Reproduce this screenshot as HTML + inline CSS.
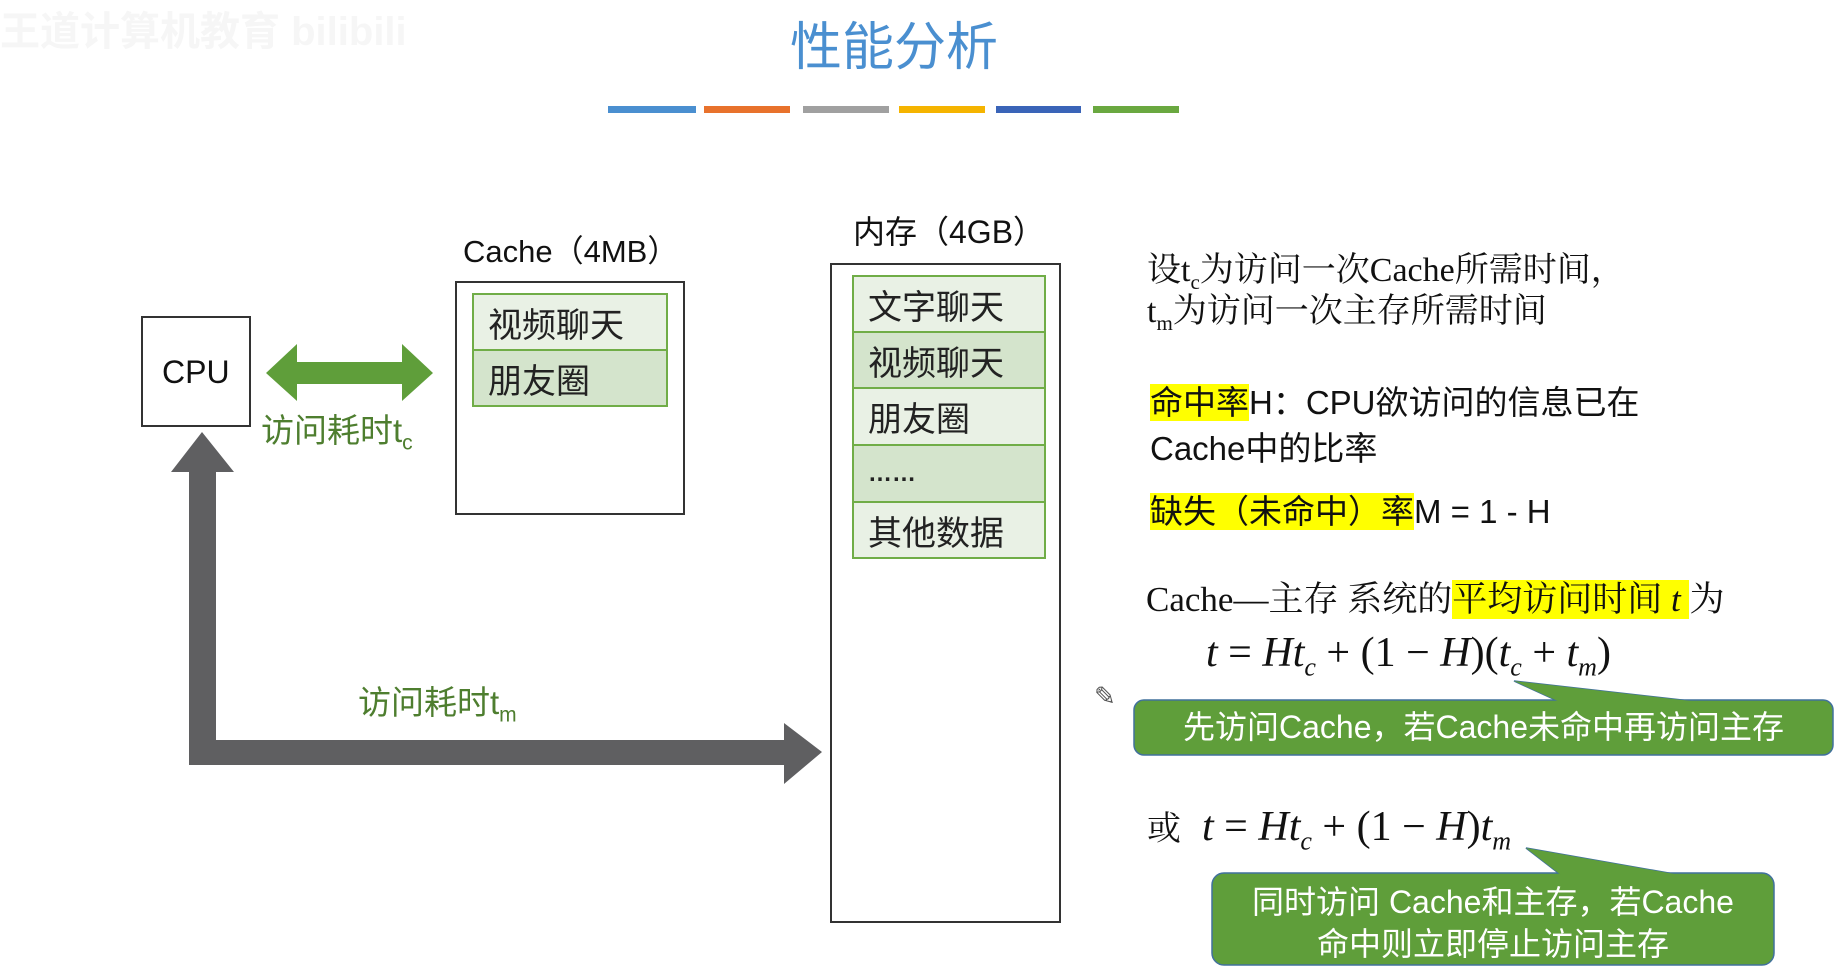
<!DOCTYPE html>
<html><head><meta charset="utf-8"><style>
html,body{margin:0;padding:0;background:#fff;}
body{width:1841px;height:977px;position:relative;overflow:hidden;font-family:"Liberation Sans","Noto Sans CJK SC",sans-serif;}
.t{position:absolute;white-space:nowrap;line-height:1;}
.s{font-family:"Liberation Serif","Noto Serif CJK SC",serif;}
.hl{background:#ffff00;}
.row{position:absolute;box-sizing:border-box;border:2px solid #70ad47;font-size:34px;padding-left:14px;display:flex;align-items:center;color:#222;}
.a{background:#e9f1e5;}.b{background:#d4e4cc;}
</style></head><body>
<div class="t" style="left:0;top:12px;font-size:40px;color:#f6f6f6;font-weight:bold;">王道计算机教育 bilibili</div>
<div class="t" style="left:790px;top:22px;font-size:52px;color:#4a8fd0;">性能分析</div>
<div style="position:absolute;top:106px;height:7px;left:608px;width:88px;background:#4a8fd0"></div>
<div style="position:absolute;top:106px;height:7px;left:704px;width:86px;background:#e8722c"></div>
<div style="position:absolute;top:106px;height:7px;left:803px;width:86px;background:#a0a0a0"></div>
<div style="position:absolute;top:106px;height:7px;left:899px;width:86px;background:#f5b400"></div>
<div style="position:absolute;top:106px;height:7px;left:996px;width:85px;background:#3a64b8"></div>
<div style="position:absolute;top:106px;height:7px;left:1093px;width:86px;background:#6aa840"></div>

<svg width="1841" height="977" style="position:absolute;left:0;top:0">
<rect x="142" y="317" width="108" height="109" fill="#fff" stroke="#333" stroke-width="2"/>
<rect x="456" y="282" width="228" height="232" fill="#fff" stroke="#333" stroke-width="2"/>
<rect x="831" y="264" width="229" height="658" fill="#fff" stroke="#333" stroke-width="2"/>
<polygon points="266,373 297,344 297,362 402,362 402,344 433,373 402,401 402,384 297,384 297,401" fill="#5f9e3a"/>
<polygon points="202,432 234,472 216,472 216,740 784,740 784,723 822,752 784,784 784,765 189,765 189,472 171,472" fill="#5f5f61"/>
<text x="1094" y="705" font-size="26" fill="#555">✎</text>
<polygon points="1514,681 1560,702 1700,702" fill="#5f9e3a" stroke="#41719c" stroke-width="1.5"/>
<rect x="1134" y="700" width="699" height="55" rx="10" fill="#5f9e3a" stroke="#41719c" stroke-width="1.5"/>
<polygon points="1560,702 1700,702 1514,681" fill="#5f9e3a"/>
<polygon points="1526,848 1561,875 1680,875" fill="#5f9e3a" stroke="#41719c" stroke-width="1.5"/>
<rect x="1212" y="873" width="562" height="92" rx="12" fill="#5f9e3a" stroke="#41719c" stroke-width="1.5"/>
<polygon points="1561,875 1680,875 1526,848" fill="#5f9e3a"/>
</svg>

<div class="t" style="left:162px;top:356px;font-size:32px;color:#111;">CPU</div>
<div class="t" style="left:463px;top:236px;font-size:31px;color:#111;">Cache（4MB）</div>
<div class="t" style="left:853px;top:216px;font-size:32px;color:#111;">内存（4GB）</div>
<div class="t" style="left:261px;top:414px;font-size:33px;color:#4e7e2f;">访问耗时t<sub style="font-size:21px">c</sub></div>
<div class="t" style="left:358px;top:686px;font-size:33px;color:#4e7e2f;">访问耗时t<sub style="font-size:21px">m</sub></div>

<div class="row a" style="left:472px;top:293px;width:196px;height:58px;">视频聊天</div>
<div class="row b" style="left:472px;top:349px;width:196px;height:58px;">朋友圈</div>
<div class="row a" style="left:852px;top:275px;width:194px;height:58px;">文字聊天</div>
<div class="row b" style="left:852px;top:331px;width:194px;height:58px;">视频聊天</div>
<div class="row a" style="left:852px;top:387px;width:194px;height:59px;">朋友圈</div>
<div class="row b" style="left:852px;top:444px;width:194px;height:59px;font-size:24px;font-weight:bold;">……</div>
<div class="row a" style="left:852px;top:501px;width:194px;height:58px;">其他数据</div>

<div class="t s" style="left:1147px;top:254px;font-size:34px;color:#111;">设t<sub style="font-size:21px">c</sub>为访问一次Cache所需时间，</div>
<div class="t s" style="left:1147px;top:295px;font-size:34px;color:#111;">t<sub style="font-size:21px">m</sub>为访问一次主存所需时间</div>
<div class="t" style="left:1150px;top:386px;font-size:33px;color:#111;"><span class="hl">命中率</span>H：CPU欲访问的信息已在</div>
<div class="t" style="left:1150px;top:432px;font-size:33px;color:#111;">Cache中的比率</div>
<div class="t" style="left:1150px;top:495px;font-size:33px;color:#111;"><span class="hl">缺失（未命中）率</span>M = 1 - H</div>
<div class="t s" style="left:1146px;top:582px;font-size:35px;color:#111;">Cache—主存 系统的<span class="hl">平均访问时间 <i>t</i> </span>为</div>
<div class="t s" style="left:1206px;top:632px;font-size:42px;color:#111;"><i>t</i> = <i>Ht<sub style="font-size:26px">c</sub></i> + (1 − <i>H</i>)(<i>t<sub style="font-size:26px">c</sub></i> + <i>t<sub style="font-size:26px">m</sub></i>)</div>
<div class="t" style="left:1134px;top:711px;width:699px;text-align:center;font-size:32px;color:#fff;">先访问Cache，若Cache未命中再访问主存</div>
<div class="t s" style="left:1147px;top:806px;font-size:42px;color:#111;"><span style="font-size:34px">或</span>&nbsp;&nbsp;<i>t</i> = <i>Ht<sub style="font-size:26px">c</sub></i> + (1 − <i>H</i>)<i>t<sub style="font-size:26px">m</sub></i></div>
<div class="t" style="left:1212px;top:881px;width:562px;text-align:center;font-size:32px;line-height:42px;color:#fff;white-space:normal;">同时访问 Cache和主存，若Cache<br>命中则立即停止访问主存</div>
</body></html>
